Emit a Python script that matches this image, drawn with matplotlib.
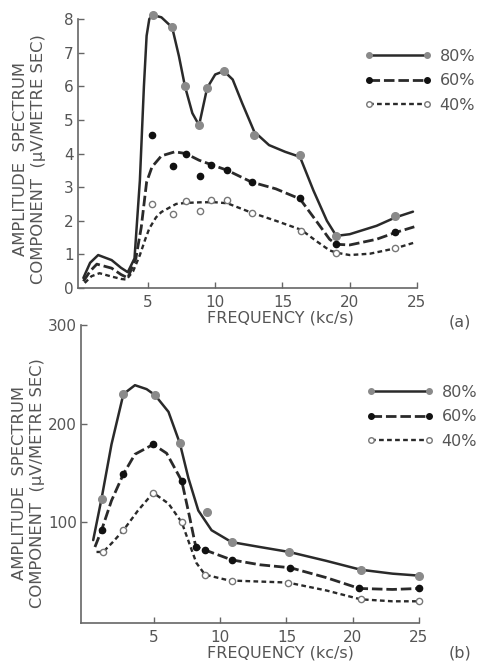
import matplotlib
matplotlib.use("Agg")
import matplotlib.pyplot as plt
from matplotlib.lines import Line2D

plt.rcParams['font.family'] = ['DejaVu Sans']
TXT = '#555555'
LINE = '#2a2a2a'

# ---------------- Panel (a) ----------------
a80_cx = [0.2, 0.7, 1.3, 2.3, 3.0, 3.5, 4.0, 4.4, 4.7, 4.9, 5.1, 5.35, 6.0, 6.8, 7.3, 7.75, 8.3, 8.8, 9.4, 10.0, 10.65, 11.3, 12.0, 12.9, 14.0, 15.2, 16.3, 17.3, 18.3, 19.0, 20.0, 22.0, 23.4, 24.7]
a80_cy = [0.3, 0.75, 0.98, 0.83, 0.6, 0.47, 0.88, 3.2, 6.0, 7.5, 8.0, 8.12, 8.05, 7.75, 6.9, 6.0, 5.2, 4.84, 5.95, 6.35, 6.45, 6.2, 5.5, 4.65, 4.25, 4.05, 3.9, 2.9, 2.0, 1.55, 1.6, 1.85, 2.1, 2.27]
a80_px = [5.35, 6.8, 7.75, 8.8, 9.4, 10.65, 12.9, 16.3, 19.0, 23.4]
a80_py = [8.12, 7.75, 6.0, 4.84, 5.95, 6.45, 4.55, 3.95, 1.55, 2.15]

a60_cx = [0.2, 0.7, 1.2, 2.3, 3.0, 3.5, 4.1, 4.5, 4.9, 5.3, 6.0, 7.0, 7.8, 8.8, 9.7, 10.9, 12.7, 14.5, 16.3, 17.5, 18.5, 19.0, 20.0, 22.0, 23.4, 24.8]
a60_cy = [0.2, 0.5, 0.71, 0.59, 0.4, 0.3, 0.88, 1.8, 3.15, 3.6, 3.93, 4.05, 4.0, 3.8, 3.67, 3.5, 3.15, 2.95, 2.65, 2.0, 1.45, 1.3, 1.28, 1.45, 1.65, 1.82]
a60_px = [5.3, 6.85, 7.8, 8.9, 9.7, 10.9, 12.7, 16.3, 19.0, 23.4]
a60_py = [4.54, 3.62, 4.0, 3.34, 3.67, 3.52, 3.15, 2.68, 1.32, 1.67]

a40_cx = [0.3, 0.8, 1.4, 2.3, 3.0, 3.4, 3.9, 4.4, 4.8, 5.1, 5.6, 6.0, 7.1, 7.8, 9.0, 10.0, 10.9, 11.8, 12.7, 14.5, 16.4, 17.5, 18.5, 19.0, 20.0, 21.5, 23.4, 24.8]
a40_cy = [0.15, 0.35, 0.44, 0.34, 0.27, 0.25, 0.5, 0.98, 1.45, 1.77, 2.1, 2.26, 2.5, 2.53, 2.55, 2.55, 2.52, 2.38, 2.24, 2.0, 1.73, 1.4, 1.12, 1.05, 0.98, 1.02, 1.18, 1.35]
a40_px = [5.3, 6.85, 7.8, 8.9, 9.7, 10.9, 12.7, 16.4, 19.0, 23.4]
a40_py = [2.49, 2.21, 2.6, 2.3, 2.62, 2.62, 2.24, 1.71, 1.05, 1.2]

# ---------------- Panel (b) ----------------
b80_cx = [0.42, 1.05, 1.8, 2.7, 3.57, 4.45, 5.08, 6.1, 6.96, 7.6, 8.35, 9.35, 10.86, 13.0, 15.2, 18.0, 20.6, 23.0, 25.0]
b80_cy = [82, 124, 179, 230, 239, 235, 229, 212, 180, 145, 112, 92, 80, 75, 70, 61, 52, 48, 46]
b80_px = [1.05, 2.7, 5.08, 6.96, 9.0, 10.86, 15.2, 20.6, 25.0]
b80_py = [124, 230, 229, 180, 110, 80, 70, 52, 46]

b60_cx = [0.55, 1.05, 1.8, 2.7, 3.57, 4.95, 5.96, 7.1, 7.7, 8.1, 8.2, 8.85, 10.86, 13.0, 15.3, 18.0, 20.5, 23.0, 25.0]
b60_cy = [75, 92, 122, 149, 169, 179, 170, 142, 105, 79, 75, 72, 62, 57, 54, 44, 33, 32, 33]
b60_px = [1.05, 2.7, 4.95, 7.1, 8.2, 8.85, 10.86, 15.3, 20.5, 25.0]
b60_py = [92, 149, 179, 142, 75, 72, 62, 54, 33, 33]

b40_cx = [0.67, 1.17, 1.9, 2.7, 3.8, 4.95, 6.1, 7.1, 7.85, 8.2, 8.85, 10.4, 10.86, 13.0, 15.1, 18.0, 20.6, 23.0, 25.0]
b40_cy = [70, 70, 80, 92, 112, 130, 119, 100, 72, 59, 47, 42, 41, 40, 39, 31, 22, 20, 20]
b40_px = [1.17, 2.7, 4.95, 7.1, 8.85, 10.86, 15.1, 20.6, 25.0]
b40_py = [70, 92, 130, 100, 47, 41, 39, 22, 20]

legend_labels = ['80%', '60%', '40%']
x_ticks = [5, 10, 15, 20, 25]
a_yticks = [0, 1, 2, 3, 4, 5, 6, 7, 8]
b_yticks = [100, 200, 300]

W, H = 483, 663
fig = plt.figure(figsize=(W / 100, H / 100), dpi=100)

def ax_rect(l, t, r, b):
    return [l / W, 1 - b / H, (r - l) / W, (b - t) / H]

ax1 = fig.add_axes(ax_rect(78, 19, 417, 288))
ax2 = fig.add_axes(ax_rect(81, 325, 419, 623))
ax1.patch.set_visible(False)
ax2.patch.set_visible(False)

styles = [
    dict(ls='-', lw=1.8, mfc='#8a8a8a', mec='#8a8a8a', ms=5.5),
    dict(ls=(0, (3.8, 1.4)), lw=2.0, mfc='#111111', mec='#111111', ms=4.5),
    dict(ls=(0, (2.0, 1.4)), lw=1.7, mfc='white', mec='#777777', ms=4.5),
]

def draw(ax, series):
    handles = []
    for (cx, cy, px, py), st in zip(series, styles):
        ax.plot(cx, cy, color=LINE, ls=st['ls'], lw=st['lw'],
                solid_joinstyle='round', solid_capstyle='round', clip_on=False)
        ax.plot(px, py, ls='none', marker='o', ms=st['ms'],
                mfc=st['mfc'], mec=st['mec'], mew=1.0, zorder=3, clip_on=False)
        handles.append(Line2D([0], [0], color=LINE, ls=st['ls'], lw=st['lw'],
                              marker='o', ms=4, mfc=st['mfc'], mec=st['mec']))
    return handles

h1 = draw(ax1, [(a80_cx, a80_cy, a80_px, a80_py),
                (a60_cx, a60_cy, a60_px, a60_py),
                (a40_cx, a40_cy, a40_px, a40_py)])
h2 = draw(ax2, [(b80_cx, b80_cy, b80_px, b80_py),
                (b60_cx, b60_cy, b60_px, b60_py),
                (b40_cx, b40_cy, b40_px, b40_py)])

ax1.set_xlim(-0.2, 25)
ax1.set_ylim(0, 8)
ax1.set_yticks(a_yticks)
ax2.set_xlim(-0.5, 25)
ax2.set_ylim(-2, 300)
ax2.set_yticks(b_yticks)

ylab = 'AMPLITUDE  SPECTRUM\nCOMPONENT  (\u03bcV/METRE SEC)'
panels = [
    # ax, tag, handles, ylabel x/y, xlabel x/y, tag x/y, legend y
    (ax1, '(a)', h1, (-0.142, 0.48), (0.596, -0.112), (1.127, -0.126), 0.89),
    (ax2, '(b)', h2, (-0.154, 0.47), (0.589, -0.1), (1.121, -0.1), 0.80),
]
for ax, lab, handles, ylc, xlc, tagc, legy in panels:
    ax.set_xticks(x_ticks)
    for s in ['top', 'right']:
        ax.spines[s].set_visible(False)
    for s in ['left', 'bottom']:
        ax.spines[s].set_color('#666666')
        ax.spines[s].set_linewidth(1.2)
    ax.tick_params(direction='in', length=4, width=1, colors='#666666',
                   labelcolor=TXT, labelsize=11)
    ax.tick_params(axis='y', pad=3)
    ax.tick_params(axis='x', pad=5)
    ax.set_xlabel('FREQUENCY (kc/s)', fontsize=11.5, color=TXT)
    ax.xaxis.set_label_coords(*xlc)
    ax.xaxis.label.set_va('center')
    ax.set_ylabel(ylab, fontsize=11.8, color=TXT, linespacing=1.25)
    ax.yaxis.set_label_coords(*ylc)
    ax.yaxis.label.set_va('center')
    ax.text(tagc[0], tagc[1], lab, transform=ax.transAxes, fontsize=11.5,
            color=TXT, ha='center', va='center')
    ax.legend(handles, legend_labels, loc='upper left',
              bbox_to_anchor=(0.845, legy), frameon=False,
              handlelength=4.2, numpoints=2, fontsize=11.5,
              labelcolor=TXT, labelspacing=0.6, handletextpad=0.5,
              borderaxespad=0, borderpad=0)

fig.savefig('out.png', dpi=100)
